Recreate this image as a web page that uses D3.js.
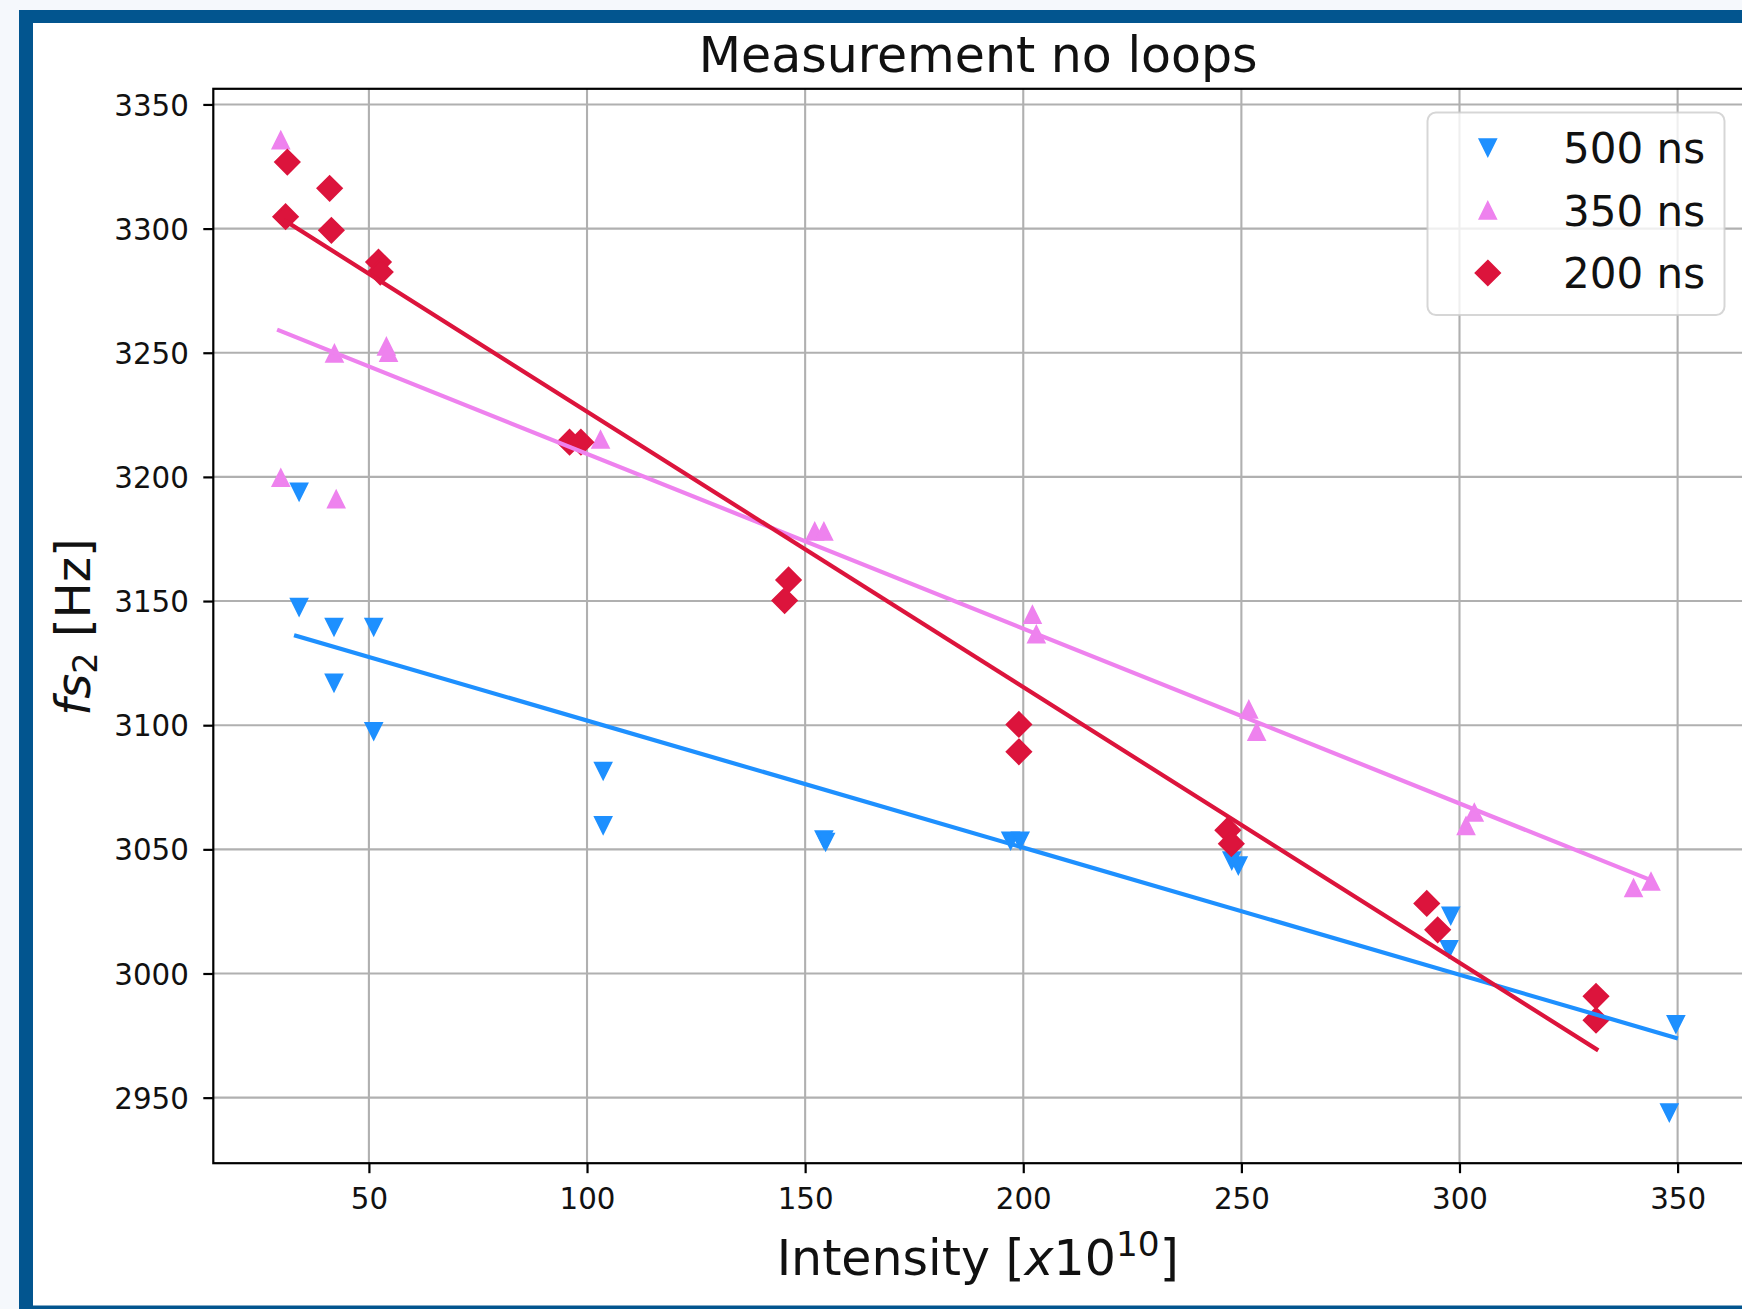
<!DOCTYPE html>
<html>
<head>
<meta charset="utf-8">
<script src="https://cdn.jsdelivr.net/npm/d3@7"></script>
<style>
  html, body { margin: 0; padding: 0; background: #f5f8fc; overflow: hidden; }
  svg { display: block; font-family: "DejaVu Sans", sans-serif; }
</style>
</head>
<body>
<svg id="chart" width="1742" height="1309"></svg>
<script>
// Intensity (x10^10) and fs2 frequency (Hz) for each bunch spacing
const intensity500 = [34.0, 34.0, 42.0, 42.0, 51.1, 51.1, 103.7, 103.7, 154.3, 154.7, 197.1, 199.3, 247.8, 249.3, 298.0, 297.6, 349.6, 348.1];
const freq500      = [3194.0, 3147.6, 3139.6, 3117.1, 3139.6, 3097.6, 3081.6, 3059.7, 3054.0, 3053.0, 3053.5, 3053.5, 3045.5, 3043.5, 3023.3, 3009.8, 2979.6, 2944.0];

const intensity350 = [29.8, 29.8, 42.1, 42.5, 54.0, 54.5, 103.1, 152.2, 154.3, 202.1, 203.0, 251.7, 253.5, 303.4, 301.5, 343.9, 339.9];
const freq350      = [3335.6, 3199.6, 3249.7, 3191.0, 3252.5, 3250.0, 3215.0, 3178.0, 3178.0, 3144.5, 3136.6, 3106.3, 3097.3, 3064.8, 3059.4, 3037.0, 3034.4];

const intensity200 = [31.3, 41.0, 30.9, 41.4, 52.2, 52.6, 96.0, 98.6, 146.2, 145.3, 199.0, 199.0, 246.9, 247.7, 292.5, 295.0, 331.3, 331.3];
const freq200      = [3326.8, 3316.2, 3304.8, 3299.3, 3286.5, 3282.5, 3214.0, 3214.0, 3158.5, 3150.2, 3100.3, 3089.3, 3057.7, 3052.3, 3028.2, 3017.6, 2990.8, 2981.2];

// Linear-fit end points [intensity, frequency]
const fit500 = [[33.3, 3136.0], [349.6, 2974.1]];
const fit350 = [[29.4, 3259.0], [344.0, 3037.5]];
const fit200 = [[30.9, 3303.0], [331.4, 2969.5]];

const seriesNames  = ["500 ns", "350 ns", "200 ns"];
const seriesColors = ["#1e90ff", "#ee82ee", "#dc143c"];
const seriesShapes = ["triangleDown", "triangleUp", "diamond"];

const xTickValues = [50, 100, 150, 200, 250, 300, 350];
const yTickValues = [2950, 3000, 3050, 3100, 3150, 3200, 3250, 3300, 3350];
const xDomain = [14.33, 365.7];
const yDomain = [2923.6, 3356.3];

const titleText = "Measurement no loops";

// ---- layout ----
const W = 1742, H = 1309;
const plot = { left: 213.3, top: 88.8, right: 1746.1, bottom: 1163.2 };

const svg = d3.select("#chart");

// page background and framed panel
svg.append("rect").attr("width", W).attr("height", H).attr("fill", "#f5f8fc");
svg.append("rect").attr("x", 19).attr("y", 10).attr("width", 1760).attr("height", 1310).attr("fill", "#02558f");
svg.append("rect").attr("x", 33).attr("y", 23).attr("width", 1740).attr("height", 1282.5).attr("fill", "#ffffff");

const x = d3.scaleLinear().domain(xDomain).range([plot.left, plot.right]);
const y = d3.scaleLinear().domain(yDomain).range([plot.bottom, plot.top]);

// grid
const grid = svg.append("g").attr("stroke", "#b0b0b0").attr("stroke-width", 2.1);
grid.selectAll("line.gx").data(xTickValues).join("line")
  .attr("x1", d => x(d)).attr("x2", d => x(d))
  .attr("y1", plot.top).attr("y2", plot.bottom);
grid.selectAll("line.gy").data(yTickValues).join("line")
  .attr("y1", d => y(d)).attr("y2", d => y(d))
  .attr("x1", plot.left).attr("x2", plot.right);

// marker shapes, centred on their bounding box
function markerPath(shape) {
  if (shape === "triangleDown") { const h = 8.2; return `M0,${h}L${-h},${-h}L${h},${-h}Z`; }
  if (shape === "triangleUp")   { const h = 8.2; return `M0,${-h}L${-h},${h}L${h},${h}Z`; }
  const r = 12.2; return `M0,${-r}L${r},0L0,${r}L${-r},0Z`;
}

const seriesData = [
  d3.zip(intensity500, freq500),
  d3.zip(intensity350, freq350),
  d3.zip(intensity200, freq200)
];
const fits = [fit500, fit350, fit200];

svg.append("clipPath").attr("id", "plotClip")
  .append("rect").attr("x", plot.left).attr("y", plot.top)
  .attr("width", plot.right - plot.left).attr("height", plot.bottom - plot.top);

const pts = svg.append("g").attr("clip-path", "url(#plotClip)");
seriesData.forEach((data, i) => {
  pts.append("g").selectAll("path").data(data).join("path")
    .attr("d", markerPath(seriesShapes[i]))
    .attr("transform", d => `translate(${x(d[0])},${y(d[1])})`)
    .attr("fill", seriesColors[i])
    .attr("stroke", seriesColors[i])
    .attr("stroke-width", 2);
});

// fitted lines sit above the markers
const line = d3.line().x(d => x(d[0])).y(d => y(d[1]));
const lines = svg.append("g").attr("clip-path", "url(#plotClip)");
fits.forEach((f, i) => {
  lines.append("path").attr("d", line(f))
    .attr("fill", "none").attr("stroke", seriesColors[i])
    .attr("stroke-width", 4.2).attr("stroke-linecap", "square");
});

// axes
const xAxis = svg.append("g").attr("transform", `translate(0,${plot.bottom})`)
  .call(d3.axisBottom(x).tickValues(xTickValues).tickSize(10).tickFormat(d3.format("d")));
const yAxis = svg.append("g").attr("transform", `translate(${plot.left},0)`)
  .call(d3.axisLeft(y).tickValues(yTickValues).tickSize(10).tickFormat(d3.format("d")));
[xAxis, yAxis].forEach(a => {
  a.select(".domain").remove();
  a.selectAll(".tick line").attr("stroke", "#000").attr("stroke-width", 2.2);
  a.selectAll(".tick text").attr("font-family", "DejaVu Sans").attr("font-size", 29.3).attr("fill", "#111");
});
xAxis.selectAll(".tick text").attr("y", 46.3).attr("dy", null);
yAxis.selectAll(".tick text").attr("x", -24.5).attr("dy", "0.36em");

// spines
svg.append("rect").attr("x", plot.left).attr("y", plot.top)
  .attr("width", plot.right - plot.left).attr("height", plot.bottom - plot.top)
  .attr("fill", "none").attr("stroke", "#000").attr("stroke-width", 2.2);

const cx = (plot.left + plot.right) / 2;

// title
svg.append("text").attr("x", cx - 1.5).attr("y", 71.5).attr("text-anchor", "middle")
  .attr("font-size", 49).attr("fill", "#111").text(titleText);

// x label
const xl = svg.append("text").attr("x", cx - 2).attr("y", 1275).attr("text-anchor", "middle")
  .attr("font-size", 49).attr("fill", "#111");
xl.append("tspan").text("Intensity [");
xl.append("tspan").attr("font-style", "italic").text("x");
xl.append("tspan").text("10");
xl.append("tspan").attr("font-size", 34.3).attr("dy", -19).text("10");
xl.append("tspan").attr("dy", 19).text("]");

// y label
const yl = svg.append("text").attr("transform", "translate(90,627) rotate(-90)")
  .attr("text-anchor", "middle").attr("font-size", 48).attr("fill", "#111");
yl.append("tspan").attr("font-style", "italic").text("fs");
yl.append("tspan").attr("font-size", 33.6).attr("dy", 7).text("2");
yl.append("tspan").attr("dy", -7).text(" [Hz]");

// legend
const lg = svg.append("g");
lg.append("rect").attr("x", 1427.5).attr("y", 112.5).attr("width", 297).attr("height", 202.5)
  .attr("rx", 8.4).attr("fill", "#fff").attr("fill-opacity", 0.8)
  .attr("stroke", "#cccccc").attr("stroke-opacity", 0.8).attr("stroke-width", 2);
const rowY = [147.5, 210.5, 273];
seriesNames.forEach((name, i) => {
  lg.append("path").attr("d", markerPath(seriesShapes[i]))
    .attr("transform", `translate(1487.8,${rowY[i]})`)
    .attr("fill", seriesColors[i]).attr("stroke", seriesColors[i]).attr("stroke-width", 2);
  lg.append("text").attr("x", 1563).attr("y", rowY[i]).attr("dy", "0.36em")
    .attr("font-size", 42).attr("fill", "#111").text(name);
});
</script>
</body>
</html>
